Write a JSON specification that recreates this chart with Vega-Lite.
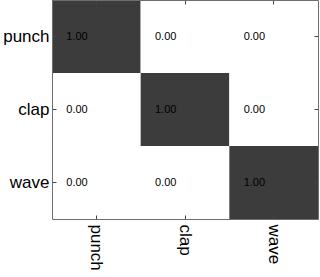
{
  "$schema": "https://vega.github.io/schema/vega-lite/v6.json",
  "autosize": "none",
  "width": 266,
  "height": 219,
  "padding": {"left": 52, "top": 0, "right": 2, "bottom": 58},
  "background": "white",
  "config": {
    "view": {"stroke": null},
    "font": "Liberation Sans",
    "axis": {"zindex": 1, "domain": true, "domainColor": "#6e6e6e", "domainWidth": 1, "tickSize": -4, "tickColor": "#444444", "tickWidth": 1, "grid": false, "title": null}
  },
  "resolve": {"axis": {"x": "independent", "y": "independent"}},
  "data": {
    "values": [
      {"actual": "punch", "pred": "punch", "value": 1.0, "label": "1.00"},
      {"actual": "punch", "pred": "clap", "value": 0.0, "label": "0.00"},
      {"actual": "punch", "pred": "wave", "value": 0.0, "label": "0.00"},
      {"actual": "clap", "pred": "punch", "value": 0.0, "label": "0.00"},
      {"actual": "clap", "pred": "clap", "value": 1.0, "label": "1.00"},
      {"actual": "clap", "pred": "wave", "value": 0.0, "label": "0.00"},
      {"actual": "wave", "pred": "punch", "value": 0.0, "label": "0.00"},
      {"actual": "wave", "pred": "clap", "value": 0.0, "label": "0.00"},
      {"actual": "wave", "pred": "wave", "value": 1.0, "label": "1.00"}
    ]
  },
  "layer": [
    {
      "mark": {"type": "rect"},
      "encoding": {
        "x": {
          "field": "pred", "type": "nominal", "sort": ["punch", "clap", "wave"],
          "scale": {"paddingInner": 0, "paddingOuter": 0},
          "axis": {
            "orient": "bottom", "zindex": 1,
            "labelAngle": 90, "labelAlign": "left", "labelBaseline": "middle",
            "labelFontSize": 17, "labelColor": "black", "labelPadding": 9
          }
        },
        "y": {
          "field": "actual", "type": "nominal", "sort": ["punch", "clap", "wave"],
          "scale": {"paddingInner": 0, "paddingOuter": 0},
          "axis": {
            "orient": "left", "zindex": 1,
            "labelFontSize": 17, "labelColor": "black", "labelPadding": 7
          }
        },
        "fill": {
          "field": "value", "type": "quantitative",
          "scale": {"domain": [0, 1], "range": ["#ffffff", "#3c3c3c"]},
          "legend": null
        }
      }
    },
    {
      "mark": {"type": "text", "align": "left", "baseline": "middle", "dx": -30, "fontSize": 11, "color": "black"},
      "encoding": {
        "x": {
          "field": "pred", "type": "nominal", "sort": ["punch", "clap", "wave"],
          "axis": {"orient": "top", "labels": false, "zindex": 1}
        },
        "y": {
          "field": "actual", "type": "nominal", "sort": ["punch", "clap", "wave"],
          "axis": {"orient": "right", "labels": false, "zindex": 1}
        },
        "text": {"field": "label"}
      }
    }
  ]
}
